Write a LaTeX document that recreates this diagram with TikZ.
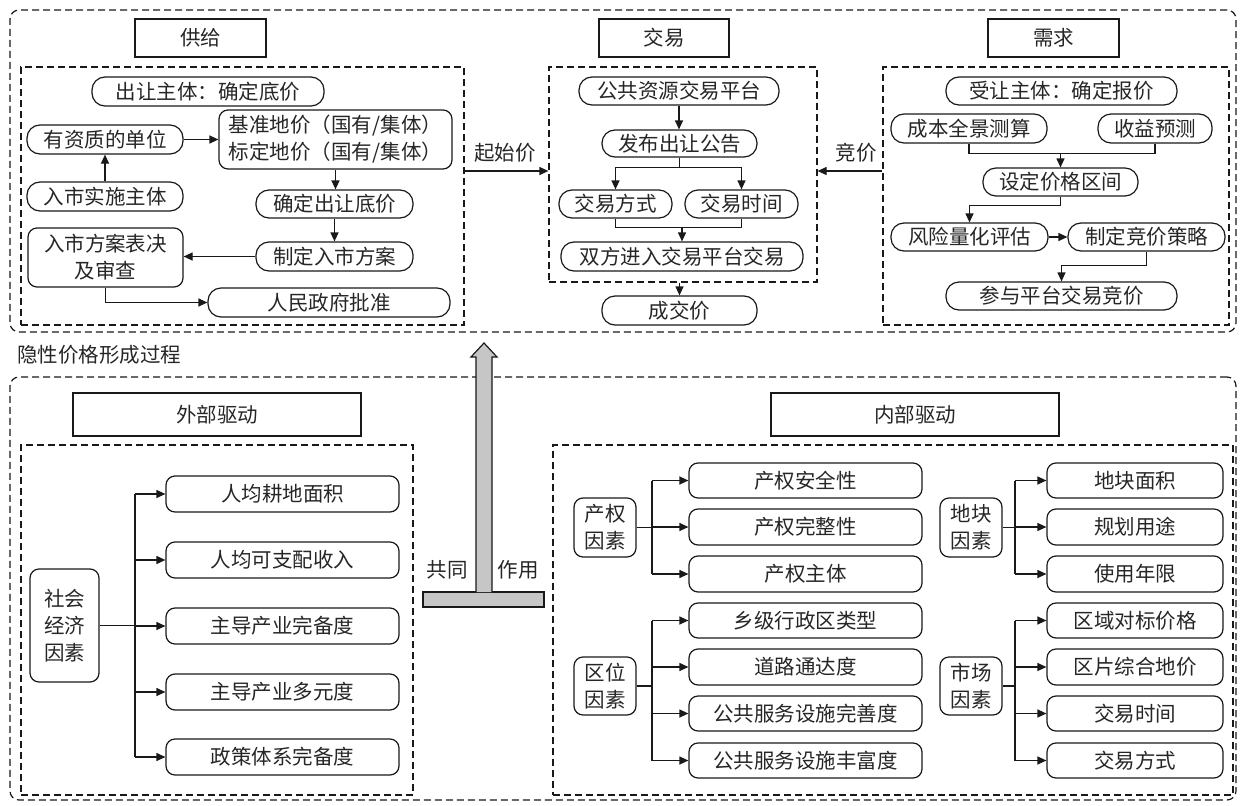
\documentclass[tikz,border=0pt]{standalone}
\usepackage{fontspec}
\setmainfont{Noto Sans CJK SC}
\usetikzlibrary{arrows.meta,calc}
\newcommand{\bx}[7]{%
 \pgfmathsetmacro{\bxcx}{(#3+#5)/2}\pgfmathsetmacro{\bxcy}{(#4+#6)/2}%
 \pgfmathsetmacro{\bxw}{#5-#3}\pgfmathsetmacro{\bxh}{#6-#4}%
 \node[#1, minimum width=\bxw pt, minimum height=\bxh pt] (#2) at (\bxcx,\bxcy) {#7};}
\tikzset{
 base/.style={draw=black!90, line width=1.2pt, inner sep=0pt, align=center, text=black!85},
 pill/.style={base, rounded corners=13pt},
 rbox/.style={base, rounded corners=9pt},
 tbox/.style={base},
 dbox/.style={base, dash pattern=on 7pt off 4pt},
 obox/.style={base, dash pattern=on 7pt off 4pt, rounded corners=9pt},
 arr/.style={-{Triangle[length=9pt,width=8pt]}, line width=1.2pt, draw=black!90},
 ln/.style={line width=1.2pt, draw=black!90},
 lbl/.style={inner sep=0pt, text=black!85}
}
\begin{document}
\begin{tikzpicture}[x=1pt,y=-1pt,font=\fontsize{20.5}{27}\selectfont]
\useasboundingbox (0,0) rectangle (1243,806);
% ===== top section =====
\bx{obox}{topouter}{10}{10}{1236}{332}{}
\bx{tbox}{tsup}{135}{19}{266}{57}{供给}
\bx{tbox}{ttrd}{599}{19}{729}{57}{交易}
\bx{tbox}{tdem}{988}{19}{1119}{57}{需求}
\bx{dbox}{sup}{21}{67}{464}{325}{}
\bx{dbox}{trd}{549}{67}{817}{282}{}
\bx{dbox}{dem}{883}{67}{1229}{325}{}
% supply
\bx{pill}{s1}{92}{77}{324}{106}{出让主体：确定底价}
\bx{pill}{s2}{27}{125}{183}{154}{有资质的单位}
\bx{rbox}{s3}{219}{110}{452}{169}{基准地价（国有/集体）\\标定地价（国有/集体）}
\bx{pill}{s4}{27}{182}{183}{211}{入市实施主体}
\bx{pill}{s5}{256}{190}{413}{218}{确定出让底价}
\bx{rbox}{s6}{28}{228}{183}{287}{入市方案表决\\及审查}
\bx{pill}{s7}{256}{242}{413}{271}{制定入市方案}
\bx{pill}{s8}{208}{288}{450}{317}{人民政府批准}
\draw[arr] (s4.north) -- (s2.south);
\draw[arr] (s2.east) -- (s3.west |- s2.east);
\draw[arr] (s3.south) -- (s3.south |- s5.north);
\draw[arr] (s5.south) -- (s5.south |- s7.north);
\draw[arr] (s7.west) -- (s6.east |- s7.west);
\draw[arr] (s6.south) |- (s8.west);
% trade
\bx{pill}{t1}{579}{77}{779}{105}{公共资源交易平台}
\bx{pill}{t2}{602}{130}{757}{157}{发布出让公告}
\bx{pill}{t3}{559}{190}{672}{218}{交易方式}
\bx{pill}{t4}{685}{190}{798}{218}{交易时间}
\bx{pill}{t5}{561}{242}{803}{271}{双方进入交易平台交易}
\bx{pill}{t6}{602}{296}{757}{325}{成交价}
\draw[arr] (t1.south) -- (t1.south |- t2.north);
\draw[arr] (t2.south) -- ++(0,10) -| (t3.north);
\draw[arr] (t2.south) -- ++(0,10) -| (t4.north);
\coordinate (tm) at ($(t3.south)+(0,9)$);
\draw[ln] (t3.south) -- (tm) -| (t4.south);
\draw[arr] (tm -| t5.north) -- (t5.north);
\draw[arr] (trd.south -| t6.north) -- (t6.north);
% demand
\bx{pill}{d1}{946}{77}{1177}{105}{受让主体：确定报价}
\bx{pill}{d2}{891}{114}{1047}{143}{成本全景测算}
\bx{pill}{d3}{1098}{114}{1212}{143}{收益预测}
\bx{pill}{d4}{983}{168}{1138}{196}{设定价格区间}
\bx{pill}{d5}{891}{223}{1048}{251}{风险量化评估}
\bx{pill}{d6}{1068}{223}{1225}{251}{制定竞价策略}
\bx{pill}{d7}{946}{282}{1177}{310}{参与平台交易竞价}
\coordinate (dm) at ($(d2.south)+(0,10)$);
\draw[ln] (d2.south) -- (dm) -| (d3.south);
\draw[arr] (dm -| d4.north) -- (d4.north);
\draw[arr] (d4.south) -- ++(0,9) -| (d5.north);
\draw[arr] (d5.east) -- (d6.west);
\draw[arr] (d6.south) -- ++(0,14) -| (d7.north);
% between
\coordinate (ya) at (0,171);
\draw[arr] (sup.east |- ya) -- (trd.west |- ya);
\draw[arr] (dem.west |- ya) -- (trd.east |- ya);
\node[lbl] (qsj) at (505,153) {起始价};
\node[lbl] (jj) at (856,153) {竞价};
% ===== bottom section =====
\node[lbl, anchor=west] (yx) at (17,355) {隐性价格形成过程};
\bx{obox}{botouter}{10}{377}{1236}{800}{}
\bx{tbox}{text}{73}{393}{361}{436}{外部驱动}
\bx{tbox}{tint}{771}{393}{1059}{436}{内部驱动}
\bx{dbox}{ext}{21}{445}{413}{795}{}
\bx{dbox}{int}{553}{445}{1233}{795}{}
% external
\bx{rbox}{e0}{30}{569}{99}{682}{社会\\经济\\因素}
\bx{rbox}{e1}{166}{476}{399}{512}{人均耕地面积}
\bx{rbox}{e2}{166}{542}{399}{578}{人均可支配收入}
\bx{rbox}{e3}{166}{608}{399}{644}{主导产业完备度}
\bx{rbox}{e4}{166}{674}{399}{710}{主导产业多元度}
\bx{rbox}{e5}{166}{739}{399}{775}{政策体系完备度}
\coordinate (et) at (135,0);
\draw[ln] (e0.east) -- (et |- e0.east);
\draw[ln] (et |- e1.west) -- (et |- e5.west);
\foreach \i in {1,...,5} {\draw[arr] (et |- e\i.west) -- (e\i.west);}
% block arrow
\node[base, fill=gray!45, minimum width=121pt, minimum height=15pt] (tbar) at (483.5,599.5) {};
\draw[base, fill=gray!45] (476,592) -- (476,357) -- (471,357) -- (484,343) -- (497,357) -- (492,357) -- (492,592);
\node[lbl] (gt) at (447,570) {共同};
\node[lbl] (zy) at (518,570) {作用};
% internal
\bx{rbox}{f1}{574}{498}{636}{557}{产权\\因素}
\bx{rbox}{f2}{574}{657}{636}{715}{区位\\因素}
\bx{rbox}{f3}{940}{498}{1002}{557}{地块\\因素}
\bx{rbox}{f4}{940}{657}{1002}{715}{市场\\因素}
\bx{rbox}{p1}{689}{463}{922}{498}{产权安全性}
\bx{rbox}{p2}{689}{509}{922}{545}{产权完整性}
\bx{rbox}{p3}{689}{556}{922}{592}{产权主体}
\bx{rbox}{q1}{689}{603}{922}{638}{乡级行政区类型}
\bx{rbox}{q2}{689}{649}{922}{685}{道路通达度}
\bx{rbox}{q3}{689}{696}{922}{731}{公共服务设施完善度}
\bx{rbox}{q4}{689}{743}{922}{778}{公共服务设施丰富度}
\bx{rbox}{r1}{1047}{463}{1223}{498}{地块面积}
\bx{rbox}{r2}{1047}{509}{1223}{545}{规划用途}
\bx{rbox}{r3}{1047}{556}{1223}{592}{使用年限}
\bx{rbox}{m1}{1047}{603}{1223}{638}{区域对标价格}
\bx{rbox}{m2}{1047}{649}{1223}{685}{区片综合地价}
\bx{rbox}{m3}{1047}{696}{1223}{731}{交易时间}
\bx{rbox}{m4}{1047}{743}{1223}{778}{交易方式}
\coordinate (lt) at (652,0);
\coordinate (rt) at (1015,0);
\draw[ln] (f1.east) -- (lt |- f1.east);
\draw[ln] (lt |- p1.west) -- (lt |- p3.west);
\foreach \i in {1,2,3} {\draw[arr] (lt |- p\i.west) -- (p\i.west);}
\draw[ln] (f2.east) -- (lt |- f2.east);
\draw[ln] (lt |- q1.west) -- (lt |- q4.west);
\foreach \i in {1,...,4} {\draw[arr] (lt |- q\i.west) -- (q\i.west);}
\draw[ln] (f3.east) -- (rt |- f3.east);
\draw[ln] (rt |- r1.west) -- (rt |- r3.west);
\foreach \i in {1,2,3} {\draw[arr] (rt |- r\i.west) -- (r\i.west);}
\draw[ln] (f4.east) -- (rt |- f4.east);
\draw[ln] (rt |- m1.west) -- (rt |- m4.west);
\foreach \i in {1,...,4} {\draw[arr] (rt |- m\i.west) -- (m\i.west);}
\end{tikzpicture}
\end{document}
